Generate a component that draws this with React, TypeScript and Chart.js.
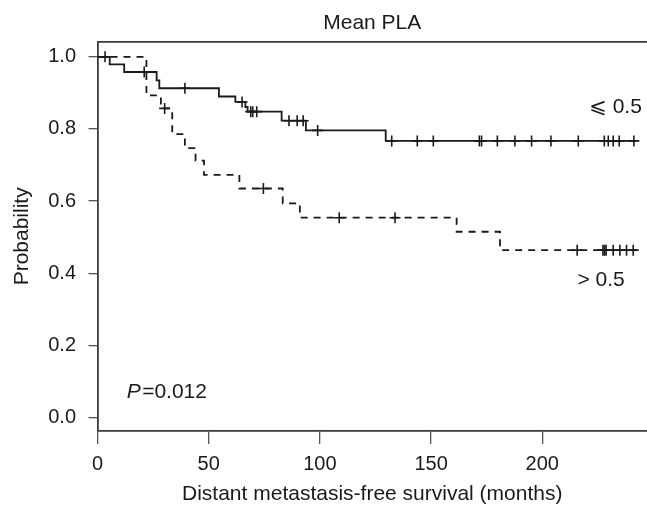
import React, { useEffect, useRef } from 'react';
import { Chart, registerables } from 'chart.js';

Chart.register(...registerables);

// ---- data ----
const lowTimes = [0, 5.5, 12, 26.6, 27.8, 54.6, 62, 66.5, 67.5, 82.8, 93.7, 129.6, 242.4];
const lowSurv = [1.0, 0.979, 0.958, 0.935, 0.913, 0.89, 0.875, 0.861, 0.848, 0.823, 0.796, 0.767, 0.767];
const lowCensor = [3.4, 21, 39.3, 65, 68.9, 69.8, 71.6, 86.1, 89.8, 92.5, 99, 132.3, 143.8, 151, 171.7, 172.7, 179.8, 187.7, 195.2, 203.9, 216.2, 227.9, 229.7, 231.9, 234.6, 241.2];

const highTimes = [0, 22, 28.5, 33.6, 39.3, 44.1, 47.9, 63.8, 83.3, 91, 161.5, 181, 242.4];
const highSurv = [1.0, 0.893, 0.857, 0.786, 0.747, 0.712, 0.673, 0.635, 0.594, 0.554, 0.515, 0.464, 0.464];
const highCensor = [30.2, 74.6, 108.7, 133.8, 215.7, 227.3, 228.0, 228.7, 231.9, 234.9, 237.9, 240.9];

const seriesNames = ['\u2A7D 0.5', '> 0.5'];
const pValueLabel = ['P', '=0.012'];
const chartTitle = 'Mean PLA';
const xAxisTitle = 'Distant metastasis-free survival (months)';
const yAxisTitle = 'Probability';
const xTickStep = 50;
const yTickStep = 0.2;

// ---- layout / style ----
const FONT = "'Liberation Sans', Arial, 'DejaVu Sans', sans-serif";
const INK = '#1a1a1a';
const AXIS = '#3a3a3a';
const X_RANGE = { min: 0, max: 247.1 };
const Y_RANGE = { min: -0.0374, max: 1.042 };
const labelAnchors = [
  { x: 244.8, y: 0.86, align: 'right' as CanvasTextAlign },
  { x: 237.1, y: 0.381, align: 'right' as CanvasTextAlign },
];
const pAnchor = { x: 13.1, y: 0.071 };

function survivalAt(times: number[], surv: number[], t: number): number {
  let s = surv[0];
  for (let i = 0; i < times.length; i++) {
    if (times[i] <= t) s = surv[i];
  }
  return s;
}

const textPlugin = {
  id: 'kmText',
  afterDatasetsDraw(chart: any) {
    const { ctx, scales } = chart;
    const xs = scales.x;
    const ys = scales.y;
    ctx.save();
    ctx.fillStyle = INK;
    ctx.textBaseline = 'middle';
    ctx.font = `21px ${FONT}`;
    seriesNames.forEach((name, i) => {
      const a = labelAnchors[i];
      ctx.textAlign = a.align;
      ctx.fillText(name, xs.getPixelForValue(a.x), ys.getPixelForValue(a.y));
    });
    ctx.textAlign = 'left';
    let px = xs.getPixelForValue(pAnchor.x);
    const py = ys.getPixelForValue(pAnchor.y);
    ctx.font = `italic 21px ${FONT}`;
    ctx.fillText(pValueLabel[0], px, py);
    px += ctx.measureText(pValueLabel[0]).width + 1.5;
    ctx.font = `21px ${FONT}`;
    ctx.fillText(pValueLabel[1], px, py);
    ctx.restore();
  },
};

export default function App() {
  const ref = useRef<HTMLCanvasElement | null>(null);

  useEffect(() => {
    document.body.style.margin = '0';
    const canvas = ref.current;
    if (!canvas) return;

    const lowLine = lowTimes.map((t, i) => ({ x: t, y: lowSurv[i] }));
    const highLine = highTimes.map((t, i) => ({ x: t, y: highSurv[i] }));
    const lowMarks = lowCensor.map((t) => ({ x: t, y: survivalAt(lowTimes, lowSurv, t) }));
    const highMarks = highCensor.map((t) => ({ x: t, y: survivalAt(highTimes, highSurv, t) }));

    const tickFont = { family: FONT, size: 20 };

    const chart = new Chart(canvas, {
      type: 'line',
      data: {
        datasets: [
          {
            label: seriesNames[0],
            data: lowLine,
            stepped: 'before',
            borderColor: INK,
            borderWidth: 1.8,
            pointRadius: 0,
            fill: false,
          },
          {
            label: seriesNames[1],
            data: highLine,
            stepped: 'before',
            borderColor: INK,
            borderWidth: 1.8,
            borderDash: [7, 6],
            pointRadius: 0,
            fill: false,
          },
          {
            label: 'censor1',
            data: lowMarks,
            showLine: false,
            pointStyle: 'cross',
            pointRadius: 5.5,
            pointBorderWidth: 1.6,
            pointBorderColor: INK,
            pointBackgroundColor: INK,
          },
          {
            label: 'censor2',
            data: highMarks,
            showLine: false,
            pointStyle: 'cross',
            pointRadius: 5.5,
            pointBorderWidth: 1.6,
            pointBorderColor: INK,
            pointBackgroundColor: INK,
          },
        ],
      },
      options: {
        animation: false,
        responsive: false,
        devicePixelRatio: 1,
        layout: { padding: 0, autoPadding: false },
        plugins: {
          legend: { display: false },
          tooltip: { enabled: false },
          title: {
            display: true,
            fullSize: false,
            text: chartTitle,
            color: INK,
            font: { family: FONT, size: 21, weight: 'normal', lineHeight: 1.2 },
            padding: { top: 10.7, bottom: 5.8 },
          },
        },
        scales: {
          x: {
            type: 'linear',
            position: 'bottom',
            min: X_RANGE.min,
            max: X_RANGE.max,
            ticks: {
              stepSize: xTickStep,
              includeBounds: false,
              autoSkip: false,
              maxRotation: 0,
              color: INK,
              font: tickFont,
              padding: 8,
            },
            grid: { drawOnChartArea: false, drawTicks: true, tickLength: 13, color: '#555', lineWidth: 1.3 },
            border: { display: true, color: AXIS, width: 1.8 },
            title: {
              display: true,
              text: xAxisTitle,
              color: INK,
              font: { family: FONT, size: 21, lineHeight: 1 },
              padding: { top: 0, bottom: 0 },
            },
            afterFit: (s: any) => {
              s.height = 74;
              s.paddingLeft = 0;
              s.paddingRight = 0;
            },
          },
          x2: {
            type: 'linear',
            position: 'top',
            min: X_RANGE.min,
            max: X_RANGE.max,
            ticks: { display: false },
            grid: { display: false, drawTicks: false },
            border: { display: true, color: AXIS, width: 1.8 },
            afterFit: (s: any) => {
              s.height = 0;
            },
          },
          y: {
            type: 'linear',
            position: 'left',
            min: Y_RANGE.min,
            max: Y_RANGE.max,
            ticks: {
              stepSize: yTickStep,
              includeBounds: false,
              color: INK,
              font: tickFont,
              padding: 12.5,
              callback: (v: any) => Number(v).toFixed(1),
            },
            grid: { drawOnChartArea: false, drawTicks: true, tickLength: 9, color: '#555', lineWidth: 1.3 },
            border: { display: true, color: AXIS, width: 1.8 },
            title: {
              display: true,
              text: yAxisTitle,
              color: INK,
              font: { family: FONT, size: 21, lineHeight: 1 },
              padding: { top: 11.5, bottom: 0 },
            },
            afterFit: (s: any) => {
              s.width = 97.5;
            },
          },
        },
      },
      plugins: [textPlugin],
    } as any);

    return () => chart.destroy();
  }, []);

  return (
    <div style={{ width: 647, height: 505 }}>
      <canvas ref={ref} width={647} height={505} style={{ display: 'block' }} />
    </div>
  );
}
